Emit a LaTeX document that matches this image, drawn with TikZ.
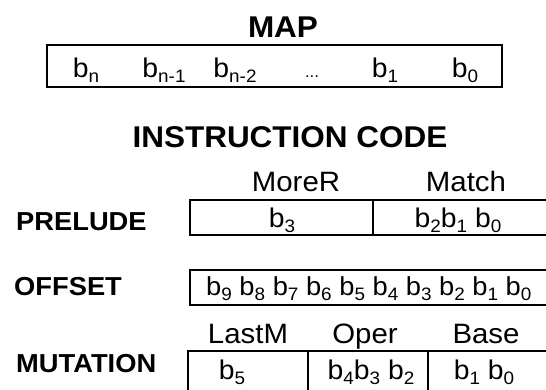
\documentclass[tikz,border=0pt]{standalone}
\usepackage{fontspec}
\setmainfont{Liberation Sans}[FakeStretch=1.05]
\newcommand\bsub[1]{\raisebox{-0.22em}{\fontsize{18}{18}\selectfont #1}}
\newcommand\bb[1]{b\bsub{#1}}
\begin{document}
\begin{tikzpicture}[x=1pt,y=-1pt,
  title/.style={font=\fontsize{30}{30}\selectfont\bfseries, anchor=base, inner sep=0pt},
  rowlab/.style={font=\fontsize{26}{26}\selectfont\bfseries, anchor=base west, inner sep=0pt},
  field/.style={font=\fontsize{28}{28}\selectfont, anchor=base, inner sep=0pt},
  cell/.style={font=\fontsize{27}{27}\selectfont, anchor=base, inner sep=0pt},
  regbox/.style={draw, line width=1.8pt}]
\useasboundingbox (0,0) rectangle (546,389);
\clip (0,0) rectangle (546,389);
% MAP
\node[title] (map) at (283,37) {MAP};
\draw[regbox] (47,45) rectangle (502,87);
\node[cell] (mn)  at (86,77)  {\bb{n}};
\node[cell] (mn1) at (164,77) {\bb{n-1}};
\node[cell] (mn2) at (235,77) {\bb{n-2}};
\node[cell, font=\fontsize{16}{16}\selectfont] (mdots) at (312,77) {...};
\node[cell] (m1)  at (385,77) {\bb{1}};
\node[cell] (m0)  at (465,77) {\bb{0}};
% INSTRUCTION CODE
\node[title] (ic) at (290,147) {INSTRUCTION CODE};
% PRELUDE
\node[field] (morer) at (296,191) {MoreR};
\node[field] (match) at (466,191) {Match};
\node[rowlab] (prelude) at (16,230) {PRELUDE};
\draw[regbox] (190,200) rectangle (560,235);
\draw[regbox] (373,200) -- (373,235);
\node[cell] (p3) at (282,227) {\bb3};
\node[cell] (p210) at (458,227) {\bb2\bb1 \bb0};
% OFFSET
\node[rowlab] (offset) at (14,295) {OFFSET};
\draw[regbox] (190,270) rectangle (560,305);
\node[cell, font=\fontsize{26}{26}\selectfont, anchor=base west] (off) at (206,295) {\bb9 \bb8 \bb7 \bb6 \bb5 \bb4 \bb3 \bb2 \bb1 \bb0};
% MUTATION
\node[field] (lastm) at (248,343) {LastM};
\node[field] (oper) at (365,343) {Oper};
\node[field] (base) at (486,343) {Base};
\node[rowlab] (mutation) at (16,372) {MUTATION};
\draw[regbox] (188,351) rectangle (560,400);
\draw[regbox] (308,351) -- (308,400);
\draw[regbox] (428,351) -- (428,400);
\node[cell] (u5) at (232,379) {\bb5};
\node[cell] (u432) at (371,379) {\bb4\bb3 \bb2};
\node[cell] (u10) at (484,379) {\bb1 \bb0};
\end{tikzpicture}
\end{document}
